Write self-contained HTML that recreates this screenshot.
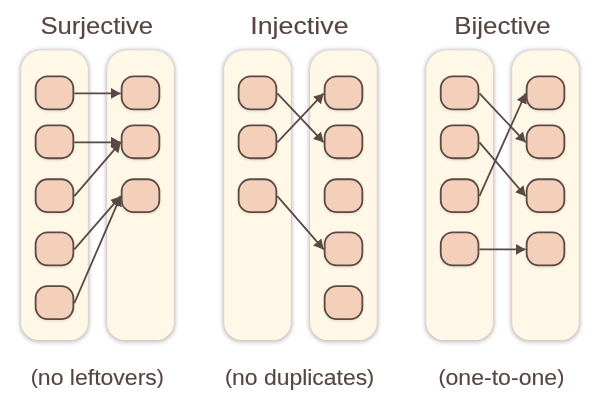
<!DOCTYPE html>
<html><head><meta charset="utf-8">
<style>
html,body{margin:0;padding:0;background:#fff;}
body{width:600px;height:400px;position:relative;overflow:hidden;font-family:"Liberation Sans", sans-serif;}
svg{position:absolute;left:0;top:0;will-change:transform;}
.t{position:absolute;white-space:nowrap;color:#574542;}
</style></head><body>
<svg width="600" height="400" viewBox="0 0 600 400">
<defs>
<filter id="sh" x="-20%" y="-10%" width="140%" height="120%">
<feMorphology in="SourceAlpha" operator="dilate" radius="0.6" result="d1"/>
<feGaussianBlur in="d1" stdDeviation="2" result="b1"/>
<feFlood flood-color="#6e5656" flood-opacity="0.36"/>
<feComposite in2="b1" operator="in" result="s1"/>
<feGaussianBlur in="SourceAlpha" stdDeviation="2.6" result="b2"/>
<feOffset in="b2" dy="2" result="o2"/>
<feFlood flood-color="#7a5a64" flood-opacity="0.2"/>
<feComposite in2="o2" operator="in" result="s2"/>
<feMerge><feMergeNode in="s2"/><feMergeNode in="s1"/><feMergeNode in="SourceGraphic"/></feMerge>
</filter>
<filter id="nsh" x="-20%" y="-20%" width="140%" height="150%">
<feDropShadow dx="0" dy="1.5" stdDeviation="1" flood-color="#606040" flood-opacity="0.14"/>
</filter>
<marker id="ah" viewBox="0 0 9.8 11" refX="9.8" refY="5.5" markerWidth="9.8" markerHeight="11" markerUnits="userSpaceOnUse" orient="auto">
<path d="M0,0 L9.8,5.5 L0,11 z" fill="#5a4845"/>
</marker>
</defs>
<path d="M41.20,50.5 L67.80,50.5 A20,20 0 0 1 87.80,70.50 L87.80,322.50 A17.5,17.5 0 0 1 70.30,340 L38.70,340 A17.5,17.5 0 0 1 21.20,322.50 L21.20,70.50 A20,20 0 0 1 41.20,50.5 Z" fill="#fff8e6" filter="url(#sh)"/>
<path d="M127.20,50.5 L153.80,50.5 A20,20 0 0 1 173.80,70.50 L173.80,322.50 A17.5,17.5 0 0 1 156.30,340 L124.70,340 A17.5,17.5 0 0 1 107.20,322.50 L107.20,70.50 A20,20 0 0 1 127.20,50.5 Z" fill="#fff8e6" filter="url(#sh)"/>
<path d="M244.20,50.5 L270.80,50.5 A20,20 0 0 1 290.80,70.50 L290.80,322.50 A17.5,17.5 0 0 1 273.30,340 L241.70,340 A17.5,17.5 0 0 1 224.20,322.50 L224.20,70.50 A20,20 0 0 1 244.20,50.5 Z" fill="#fff8e6" filter="url(#sh)"/>
<path d="M330.20,50.5 L356.80,50.5 A20,20 0 0 1 376.80,70.50 L376.80,322.50 A17.5,17.5 0 0 1 359.30,340 L327.70,340 A17.5,17.5 0 0 1 310.20,322.50 L310.20,70.50 A20,20 0 0 1 330.20,50.5 Z" fill="#fff8e6" filter="url(#sh)"/>
<path d="M446.30,50.5 L472.90,50.5 A20,20 0 0 1 492.90,70.50 L492.90,322.50 A17.5,17.5 0 0 1 475.40,340 L443.80,340 A17.5,17.5 0 0 1 426.30,322.50 L426.30,70.50 A20,20 0 0 1 446.30,50.5 Z" fill="#fff8e6" filter="url(#sh)"/>
<path d="M532.20,50.5 L558.80,50.5 A20,20 0 0 1 578.80,70.50 L578.80,322.50 A17.5,17.5 0 0 1 561.30,340 L529.70,340 A17.5,17.5 0 0 1 512.20,322.50 L512.20,70.50 A20,20 0 0 1 532.20,50.5 Z" fill="#fff8e6" filter="url(#sh)"/>
<line x1="74.35" y1="93.40" x2="120.65" y2="93.40" stroke="#5a4845" stroke-width="1.8" marker-end="url(#ah)"/>
<line x1="74.35" y1="142.30" x2="120.65" y2="142.30" stroke="#5a4845" stroke-width="1.8" marker-end="url(#ah)"/>
<line x1="74.35" y1="196.20" x2="120.65" y2="142.30" stroke="#5a4845" stroke-width="1.8" marker-end="url(#ah)"/>
<line x1="74.35" y1="249.40" x2="120.65" y2="196.20" stroke="#5a4845" stroke-width="1.8" marker-end="url(#ah)"/>
<line x1="74.35" y1="303.10" x2="120.65" y2="196.20" stroke="#5a4845" stroke-width="1.8" marker-end="url(#ah)"/>
<line x1="277.35" y1="93.40" x2="323.65" y2="142.30" stroke="#5a4845" stroke-width="1.8" marker-end="url(#ah)"/>
<line x1="277.35" y1="142.30" x2="323.65" y2="93.40" stroke="#5a4845" stroke-width="1.8" marker-end="url(#ah)"/>
<line x1="277.35" y1="196.20" x2="323.65" y2="249.40" stroke="#5a4845" stroke-width="1.8" marker-end="url(#ah)"/>
<line x1="479.45" y1="93.40" x2="525.65" y2="142.30" stroke="#5a4845" stroke-width="1.8" marker-end="url(#ah)"/>
<line x1="479.45" y1="142.30" x2="525.65" y2="196.20" stroke="#5a4845" stroke-width="1.8" marker-end="url(#ah)"/>
<line x1="479.45" y1="196.20" x2="525.65" y2="93.40" stroke="#5a4845" stroke-width="1.8" marker-end="url(#ah)"/>
<line x1="479.45" y1="249.40" x2="525.65" y2="249.40" stroke="#5a4845" stroke-width="1.8" marker-end="url(#ah)"/>
<rect x="35.65" y="76.45" width="37.7" height="32.9" rx="12" fill="#f4d0bb" stroke="#5a4845" stroke-width="1.8" filter="url(#nsh)"/>
<rect x="35.65" y="125.35" width="37.7" height="32.9" rx="12" fill="#f4d0bb" stroke="#5a4845" stroke-width="1.8" filter="url(#nsh)"/>
<rect x="35.65" y="179.25" width="37.7" height="32.9" rx="12" fill="#f4d0bb" stroke="#5a4845" stroke-width="1.8" filter="url(#nsh)"/>
<rect x="35.65" y="232.45" width="37.7" height="32.9" rx="12" fill="#f4d0bb" stroke="#5a4845" stroke-width="1.8" filter="url(#nsh)"/>
<rect x="35.65" y="286.15" width="37.7" height="32.9" rx="12" fill="#f4d0bb" stroke="#5a4845" stroke-width="1.8" filter="url(#nsh)"/>
<rect x="121.65" y="76.45" width="37.7" height="32.9" rx="12" fill="#f4d0bb" stroke="#5a4845" stroke-width="1.8" filter="url(#nsh)"/>
<rect x="121.65" y="125.35" width="37.7" height="32.9" rx="12" fill="#f4d0bb" stroke="#5a4845" stroke-width="1.8" filter="url(#nsh)"/>
<rect x="121.65" y="179.25" width="37.7" height="32.9" rx="12" fill="#f4d0bb" stroke="#5a4845" stroke-width="1.8" filter="url(#nsh)"/>
<rect x="238.65" y="76.45" width="37.7" height="32.9" rx="12" fill="#f4d0bb" stroke="#5a4845" stroke-width="1.8" filter="url(#nsh)"/>
<rect x="238.65" y="125.35" width="37.7" height="32.9" rx="12" fill="#f4d0bb" stroke="#5a4845" stroke-width="1.8" filter="url(#nsh)"/>
<rect x="238.65" y="179.25" width="37.7" height="32.9" rx="12" fill="#f4d0bb" stroke="#5a4845" stroke-width="1.8" filter="url(#nsh)"/>
<rect x="324.65" y="76.45" width="37.7" height="32.9" rx="12" fill="#f4d0bb" stroke="#5a4845" stroke-width="1.8" filter="url(#nsh)"/>
<rect x="324.65" y="125.35" width="37.7" height="32.9" rx="12" fill="#f4d0bb" stroke="#5a4845" stroke-width="1.8" filter="url(#nsh)"/>
<rect x="324.65" y="179.25" width="37.7" height="32.9" rx="12" fill="#f4d0bb" stroke="#5a4845" stroke-width="1.8" filter="url(#nsh)"/>
<rect x="324.65" y="232.45" width="37.7" height="32.9" rx="12" fill="#f4d0bb" stroke="#5a4845" stroke-width="1.8" filter="url(#nsh)"/>
<rect x="324.65" y="286.15" width="37.7" height="32.9" rx="12" fill="#f4d0bb" stroke="#5a4845" stroke-width="1.8" filter="url(#nsh)"/>
<rect x="440.75" y="76.45" width="37.7" height="32.9" rx="12" fill="#f4d0bb" stroke="#5a4845" stroke-width="1.8" filter="url(#nsh)"/>
<rect x="440.75" y="125.35" width="37.7" height="32.9" rx="12" fill="#f4d0bb" stroke="#5a4845" stroke-width="1.8" filter="url(#nsh)"/>
<rect x="440.75" y="179.25" width="37.7" height="32.9" rx="12" fill="#f4d0bb" stroke="#5a4845" stroke-width="1.8" filter="url(#nsh)"/>
<rect x="440.75" y="232.45" width="37.7" height="32.9" rx="12" fill="#f4d0bb" stroke="#5a4845" stroke-width="1.8" filter="url(#nsh)"/>
<rect x="526.65" y="76.45" width="37.7" height="32.9" rx="12" fill="#f4d0bb" stroke="#5a4845" stroke-width="1.8" filter="url(#nsh)"/>
<rect x="526.65" y="125.35" width="37.7" height="32.9" rx="12" fill="#f4d0bb" stroke="#5a4845" stroke-width="1.8" filter="url(#nsh)"/>
<rect x="526.65" y="179.25" width="37.7" height="32.9" rx="12" fill="#f4d0bb" stroke="#5a4845" stroke-width="1.8" filter="url(#nsh)"/>
<rect x="526.65" y="232.45" width="37.7" height="32.9" rx="12" fill="#f4d0bb" stroke="#5a4845" stroke-width="1.8" filter="url(#nsh)"/>
<g font-family="Liberation Sans, sans-serif" fill="#574542" stroke="#574542" stroke-width="0.12" text-anchor="middle">
<text x="96.75" y="33.5" font-size="24.5" textLength="112.7" lengthAdjust="spacingAndGlyphs">Surjective</text>
<text x="299.4" y="33.5" font-size="24.5" textLength="98.3" lengthAdjust="spacingAndGlyphs">Injective</text>
<text x="502.5" y="33.5" font-size="24.5" textLength="96.4" lengthAdjust="spacingAndGlyphs">Bijective</text>
<text x="97.35" y="385.2" font-size="21.6" textLength="133.2" lengthAdjust="spacingAndGlyphs"><tspan font-size="20" dy="-1.5">(</tspan><tspan dy="1.5">no leftovers</tspan><tspan font-size="20" dy="-1.5">)</tspan></text>
<text x="299.6" y="385.2" font-size="21.6" textLength="149.2" lengthAdjust="spacingAndGlyphs"><tspan font-size="20" dy="-1.5">(</tspan><tspan dy="1.5">no duplicates</tspan><tspan font-size="20" dy="-1.5">)</tspan></text>
<text x="501.35" y="385.2" font-size="21.6" textLength="125.9" lengthAdjust="spacingAndGlyphs"><tspan font-size="20" dy="-1.5">(</tspan><tspan dy="1.5">one-to-one</tspan><tspan font-size="20" dy="-1.5">)</tspan></text>
</g>
</svg>
</body></html>
